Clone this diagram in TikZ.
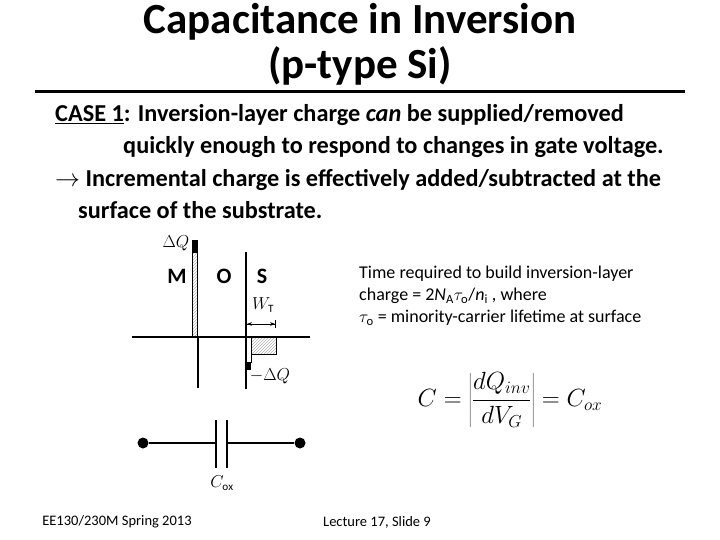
\documentclass[tikz,border=0pt]{standalone}
\usepackage{fontspec}
\setmainfont{Carlito}
\usetikzlibrary{patterns,arrows.meta}
\begin{document}
\begin{tikzpicture}[x=1pt,y=-1pt,
  ln/.style={line width=2.2pt},
  thin/.style={line width=1pt},
  dot/.style={circle,fill=black,inner sep=0pt,minimum size=11pt},
  lbl/.style={inner sep=0pt},
  body/.style={lbl,anchor=west,font=\bfseries\fontsize{24.3}{26}\selectfont}]
\useasboundingbox (0,0) rectangle (720,540);
% title
\node[lbl,font=\bfseries\fontsize{43}{44}\selectfont] (t1) at (360,22) {Capacitance in Inversion};
\node[lbl,font=\bfseries\fontsize{43}{44}\selectfont] (t2) at (360,66) {(p-type Si)};
\draw[line width=3pt] (35,92) -- (685,92);
% body text
\node[body] (b1) at (55,115) {\underline{CASE 1}: Inversion-layer charge \textit{can} be supplied/removed};
\node[body] (b2) at (123,147) {quickly enough to respond to changes in gate voltage.};
\node[body] (b3) at (55,180) {$\rightarrow$ Incremental charge is effectively added/subtracted at the};
\node[body] (b4) at (78,210) {surface of the substrate.};
% diagram
\draw[thin,pattern=north east lines,pattern color=gray!60] (192,252) rectangle (197,337);
\fill (192,240) rectangle (198,252);
\draw[ln] (132,337) -- (310,337);
\draw[ln] (198,337) -- (198,388);
\draw[ln] (246,252) -- (246,389);
\draw[thin] (246,337) rectangle (251,362);
\fill (246,362) rectangle (251,370);
\draw[thin,pattern=north east lines,pattern color=gray!60] (251,337) rectangle (276,354);
\draw[thin,{Bar[width=8pt]Stealth[length=5pt]}-{Stealth[length=5pt]Bar[width=8pt]}] (246,324) -- (276,324);
\node[lbl,font=\fontsize{16}{16}\selectfont] (dq) at (176,243) {$\Delta Q$};
\node[lbl,font=\fontsize{16}{16}\selectfont] (mdq) at (270,376) {$-\Delta Q$};
\node[lbl,font=\fontsize{16}{16}\selectfont] (wt) at (263,305) {$W_{\mathrm{T}}$};
\node[lbl,font=\bfseries\fontsize{22}{22}\selectfont] (m) at (177,276) {M};
\node[lbl,font=\bfseries\fontsize{22}{22}\selectfont] (o) at (224,276) {O};
\node[lbl,font=\bfseries\fontsize{22}{22}\selectfont] (s) at (262,276) {S};
% right text
\node[lbl,anchor=west,font=\fontsize{18}{21}\selectfont,align=left] (rt) at (359,296) {Time required to build inversion-layer\\[1pt] charge = 2\textit{N}\textsubscript{A}$\tau_{\mathrm o}$/\textit{n}\textsubscript{i} , where\\[1pt] $\tau_{\mathrm o}$ = minority-carrier lifetime at surface};
\node[lbl,font=\fontsize{24}{24}\selectfont] (eq) at (510,400) {$\displaystyle C=\left|\frac{dQ_{inv}}{dV_G}\right| = C_{ox}$};
% capacitor
\node[dot] (l) at (143,443) {};
\node[dot] (r) at (300,443) {};
\coordinate (p1) at (216,443);
\coordinate (p2) at (227,443);
\draw[ln] (l) -- (p1);
\draw[ln] (p2) -- (r);
\draw[ln] (216,420) -- (216,468);
\draw[ln] (227,420) -- (227,468);
\node[lbl,font=\fontsize{16}{16}\selectfont] (cox) at (222,483) {$C_{\mathrm{ox}}$};
% footer
\node[lbl,font=\fontsize{14.5}{16}\selectfont] (f1) at (117,522) {EE130/230M Spring 2013};
\node[lbl,font=\fontsize{14.5}{16}\selectfont] (f2) at (377,522) {Lecture 17, Slide 9};
\end{tikzpicture}
\end{document}
